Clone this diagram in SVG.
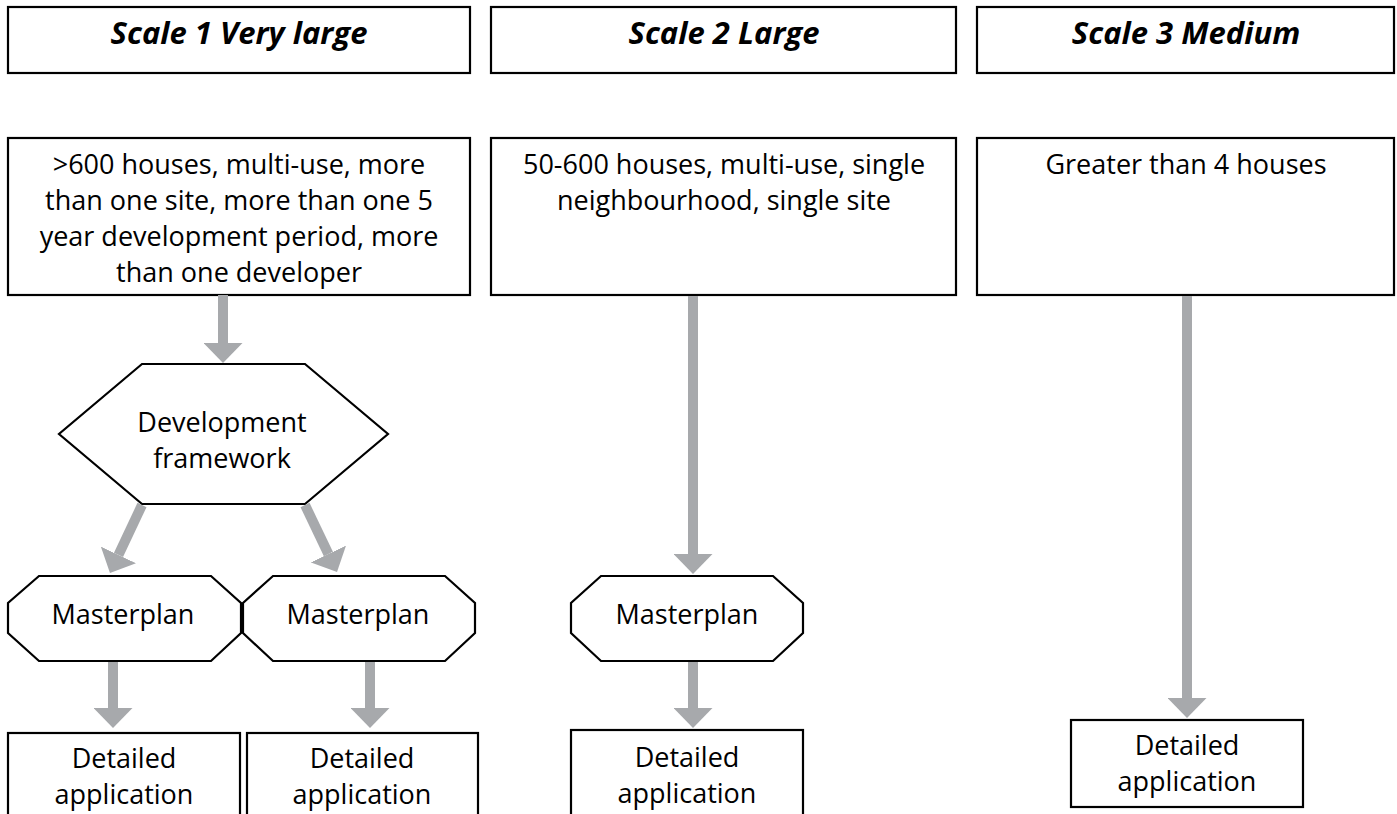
<svg xmlns="http://www.w3.org/2000/svg" width="1397" height="814" viewBox="0 0 1397 814">
<defs>
<style>
.box{fill:#fff;stroke:#000;stroke-width:2.2}
.hd{font-family:"Open Sans","Liberation Sans",sans-serif;font-weight:bold;font-style:italic;font-size:31px;fill:#000;text-anchor:middle}
.tx{font-family:"Open Sans","Liberation Sans",sans-serif;font-size:27px;fill:#000;text-anchor:middle}
.arr{stroke:#a7a9ac;stroke-width:10;fill:none;marker-end:url(#ah)}
</style>
<marker id="ah" markerUnits="userSpaceOnUse" viewBox="0 0 20 39" refX="0" refY="19.5" markerWidth="20" markerHeight="39" orient="auto">
<path d="M0,0 L20,19.5 L0,39 Z" fill="#a7a9ac"/>
</marker>
</defs>
<g id="h1"><rect class="box" x="8" y="7" width="462" height="66"/><text class="hd" x="239" y="44">Scale 1 Very large</text></g>
<g id="h2"><rect class="box" x="491" y="7" width="465" height="66"/><text class="hd" x="724" y="44">Scale 2 Large</text></g>
<g id="h3"><rect class="box" x="977" y="7" width="417" height="66"/><text class="hd" x="1186" y="44">Scale 3 Medium</text></g>
<g id="d1"><rect class="box" x="8" y="138" width="462" height="157"/>
<text class="tx" x="239" y="174">&gt;600 houses, multi-use, more</text>
<text class="tx" x="239" y="210">than one site, more than one 5</text>
<text class="tx" x="239" y="246">year development period, more</text>
<text class="tx" x="239" y="282">than one developer</text></g>
<g id="d2"><rect class="box" x="491" y="138" width="465" height="157"/>
<text class="tx" x="724" y="174">50-600 houses, multi-use, single</text>
<text class="tx" x="724" y="210">neighbourhood, single site</text></g>
<g id="d3"><rect class="box" x="977" y="138" width="417" height="157"/>
<text class="tx" x="1186" y="174">Greater than 4 houses</text></g>
<g id="df"><polygon class="box" points="142,364 305,364 388,434 305,504 142,504 59,434"/>
<text class="tx" x="222" y="432">Development</text>
<text class="tx" x="222" y="468">framework</text></g>
<g id="m1"><polygon class="box" points="39,576 211,576 241,603 241,633 211,661 39,661 8,633 8,603"/><text class="tx" x="123" y="624">Masterplan</text></g>
<g id="m2"><polygon class="box" points="273,576 445,576 475,603 475,633 445,661 273,661 243,633 243,603"/><text class="tx" x="358" y="624">Masterplan</text></g>
<g id="m3"><polygon class="box" points="601,576 773,576 803,603 803,633 773,661 601,661 571,633 571,603"/><text class="tx" x="687" y="624">Masterplan</text></g>
<g id="a1"><rect class="box" x="8" y="733" width="232" height="90"/><text class="tx" x="124" y="768">Detailed</text><text class="tx" x="124" y="804">application</text></g>
<g id="a2"><rect class="box" x="247" y="733" width="231" height="90"/><text class="tx" x="362" y="768">Detailed</text><text class="tx" x="362" y="804">application</text></g>
<g id="a3"><rect class="box" x="571" y="730" width="232" height="93"/><text class="tx" x="687" y="767">Detailed</text><text class="tx" x="687" y="803">application</text></g>
<g id="a4"><rect class="box" x="1071" y="720" width="232" height="87"/><text class="tx" x="1187" y="755">Detailed</text><text class="tx" x="1187" y="791">application</text></g>
<g id="connectors">
<line class="arr" x1="223" y1="295" x2="223" y2="343"/>
<line class="arr" x1="142" y1="505" x2="118.5" y2="554.9"/>
<line class="arr" x1="305" y1="505" x2="328.4" y2="554"/>
<line class="arr" x1="113" y1="662" x2="113" y2="708"/>
<line class="arr" x1="370" y1="662" x2="370" y2="708"/>
<line class="arr" x1="693" y1="296" x2="693" y2="554"/>
<line class="arr" x1="693" y1="662" x2="693" y2="708"/>
<line class="arr" x1="1187" y1="296" x2="1187" y2="698"/>
</g>
</svg>
